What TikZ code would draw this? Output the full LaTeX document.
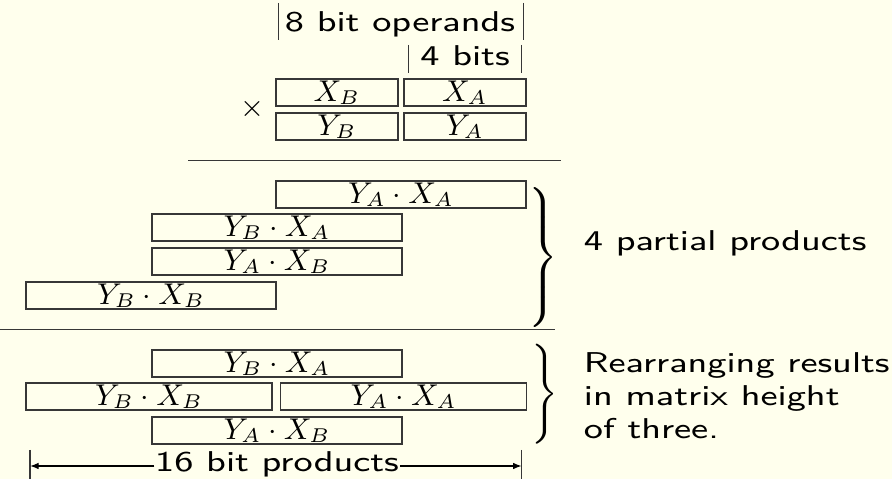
\documentclass[tikz,border=0pt]{standalone}
\usepackage{fontspec}
\usetikzlibrary{arrows.meta}
\definecolor{bg}{RGB}{255,255,237}
\definecolor{ln}{RGB}{55,55,55}
\newcommand{\sx}{1.3}
\newcommand{\bigbr}[1]{$\nulldelimiterspace=0pt\delimitershortfall=0pt\delimiterfactor=1000\left.\vrule height #1 depth #1 width 0pt\right\}$}
\begin{document}
\begin{tikzpicture}[x=0.3pt,y=-0.3pt,
  font=\fontsize{8.6}{9.9}\selectfont\sffamily,
  txt/.style={inner sep=0pt, xscale=\sx},
  mth/.style={inner sep=0pt, font=\fontsize{9.2}{11}\selectfont},
  pbox/.style={mth, draw=ln, line width=0.35pt, minimum height=8.1pt, anchor=center},
  rulel/.style={draw=ln, line width=0.4pt},
  dimarr/.style={draw=black, line width=0.4pt, -{Latex[length=2.6pt,width=2pt]}}
]
\useasboundingbox[fill=bg] (0,0) rectangle (892,479);

% operand widths
\node[txt, anchor=base] (op8) at (400,31.7) {8 bit operands};
\coordinate (b1t) at (278.3,3); \coordinate (b1b) at (278.3,40);
\coordinate (b2t) at (523.3,3); \coordinate (b2b) at (523.3,40);
\draw[rulel] (b1t) -- (b1b); \draw[rulel] (b2t) -- (b2b);
\node[txt, anchor=base] (op4) at (465,66) {4 bits};
\coordinate (b3t) at (408.3,45); \coordinate (b3b) at (408.3,73);
\coordinate (b4t) at (521.7,45); \coordinate (b4b) at (521.7,73);
\draw[rulel] (b3t) -- (b3b); \draw[rulel] (b4t) -- (b4b);

% operands
\node[mth] (times) at (252,109) {$\times$};
\node[pbox, minimum width=36.6pt] (xb) at (337,92.5) {$X_B$};
\node[pbox, minimum width=36.6pt] (xa) at (465,92.5) {$X_A$};
\node[pbox, minimum width=36.6pt] (yb) at (337,126.5) {$Y_B$};
\node[pbox, minimum width=36.6pt] (ya) at (465,126.5) {$Y_A$};
\coordinate (l1a) at (188,160.5); \coordinate (l1b) at (561,160.5);
\draw[rulel] (l1a) -- (l1b);

% partial products
\node[pbox, minimum width=75pt] (p1) at (401,194.5) {$Y_A\cdot X_A$};
\node[pbox, minimum width=75pt] (p2) at (277,227.5) {$Y_B\cdot X_A$};
\node[pbox, minimum width=75pt] (p3) at (277,261.5) {$Y_A\cdot X_B$};
\node[pbox, minimum width=75pt] (p4) at (151,295.5) {$Y_B\cdot X_B$};
\node[inner sep=0pt] (br1) at (543,258) {\bigbr{18.5pt}};
\node[txt, anchor=base west] (t1) at (583,251) {4 partial products};
\coordinate (l2a) at (0,329.5); \coordinate (l2b) at (555,329.5);
\draw[rulel] (l2a) -- (l2b);

% rearranged
\node[pbox, minimum width=75pt] (r1) at (277,363.5) {$Y_B\cdot X_A$};
\node[pbox, minimum width=73.8pt] (r2) at (149,396.5) {$Y_B\cdot X_B$};
\node[pbox, minimum width=73.8pt] (r3) at (403.7,396.5) {$Y_A\cdot X_A$};
\node[pbox, minimum width=75pt] (r4) at (277,430.5) {$Y_A\cdot X_B$};
\node[inner sep=0pt, font=\fontsize{9.2}{11}\selectfont] (br2) at (545,394) {$\nulldelimiterspace=0pt\Bigg\}$};
\node[txt, anchor=base west, align=left] (t2) at (583,438.3) {Rearranging results\\in matrix height\\of three.};

% product width
\node[txt, anchor=base] (pw) at (277,471.5) {16 bit products};
\coordinate (al) at (30,466); \coordinate (ar) at (521.7,466);
\coordinate (alt) at (30,450); \coordinate (alb) at (30,485);
\coordinate (art) at (521.7,450); \coordinate (arb) at (521.7,485);
\draw[rulel] (alt) -- (alb); \draw[rulel] (art) -- (arb);
\draw[dimarr] (pw.west |- al) -- (al);
\draw[dimarr] (pw.east |- ar) -- (ar);
\end{tikzpicture}
\end{document}
